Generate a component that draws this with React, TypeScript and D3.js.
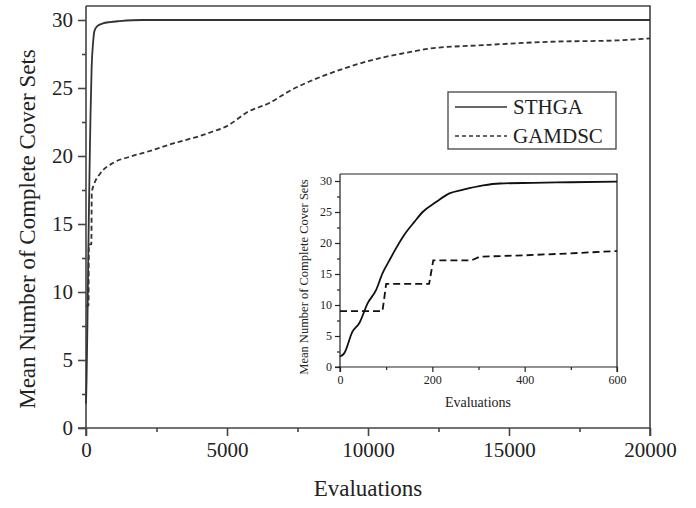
import React, { useEffect, useRef } from "react";
import * as d3 from "d3";

const sthgaMain: [number, number][] = [
  [0, 1.8], [20, 3.5], [50, 7.5], [80, 12.5], [100, 15.5], [130, 19.5], [160, 23], [200, 26.5],
  [250, 28.3], [300, 29.2], [400, 29.55], [600, 29.75], [850, 29.85], [1200, 29.92], [2000, 30],
  [5000, 30], [10000, 30], [20000, 30],
];
const gamdscMain: [number, number][] = [
  [0, 9], [90, 9], [100, 13.5], [190, 13.5], [205, 17.3], [300, 18.0], [500, 18.7], [970, 19.5],
  [1560, 19.95], [2150, 20.3], [3216, 21.0], [4000, 21.45], [4500, 21.8], [5000, 22.2], [5700, 23.2],
  [6500, 23.9], [7234, 24.8], [8300, 25.8], [9245, 26.5], [10425, 27.2], [11130, 27.5], [12200, 27.9],
  [14080, 28.15], [16450, 28.4], [18830, 28.5], [20000, 28.65],
];
const sthgaInset: [number, number][] = [
  [0, 1.7], [9, 2.2], [27, 5.7], [42, 7.1], [60, 10.3], [78, 12.4], [92, 15.1], [107, 17.2],
  [121, 19.1], [139, 21.3], [161, 23.4], [179, 25], [208, 26.6], [237, 28], [267, 28.6], [310, 29.3],
  [346, 29.6], [418, 29.7], [500, 29.8], [600, 29.9],
];
const gamdscInset: [number, number][] = [
  [0, 9], [92, 9], [100, 13.4], [193, 13.4], [202, 17.2], [285, 17.2], [303, 17.8], [396, 18.0],
  [490, 18.3], [600, 18.7],
];
const mainXTicks = [0, 5000, 10000, 15000, 20000];
const mainYTicks = [0, 5, 10, 15, 20, 25, 30];
const insetXTicks = [0, 200, 400, 600];
const insetYTicks = [0, 5, 10, 15, 20, 25, 30];
const legendLabels = ["STHGA", "GAMDSC"];
const xLabel = "Evaluations";
const yLabel = "Mean Number of Complete Cover Sets";

export default function App() {
  const ref = useRef<SVGSVGElement>(null);
  useEffect(() => {
    const svg = d3.select(ref.current);
    svg.selectAll("*").remove();
    const font = "'Liberation Serif', 'Times New Roman', serif";
    const frame = "#444";

    // main chart
    const x = d3.scaleLinear().domain([0, 20000]).range([86, 650]);
    const y = d3.scaleLinear().domain([0, 30]).range([428, 20]);
    const g = svg.append("g");

    const yAx = g.append("g").attr("transform", `translate(${x(0)},0)`)
      .call(d3.axisLeft(y).tickValues(mainYTicks).tickSize(8).tickPadding(5).tickFormat(d3.format("d")));
    g.append("g").attr("transform", `translate(${x(0)},0)`)
      .call(d3.axisLeft(y).tickValues(d3.range(2.5, 30, 5)).tickSize(4).tickFormat(() => ""))
      .call((s) => s.select(".domain").remove());
    const xAx = g.append("g").attr("transform", `translate(0,${y(0)})`)
      .call(d3.axisBottom(x).tickValues(mainXTicks).tickSize(8).tickPadding(6).tickFormat(d3.format("d")));
    g.append("g").attr("transform", `translate(0,${y(0)})`)
      .call(d3.axisBottom(x).tickValues(d3.range(2500, 20000, 5000)).tickSize(4).tickFormat(() => ""))
      .call((s) => s.select(".domain").remove());
    [yAx, xAx].forEach((a) => {
      a.selectAll("text").attr("font-family", font).attr("font-size", 21).attr("fill", "#222");
    });
    g.selectAll(".domain, .tick line").attr("stroke", frame).attr("stroke-width", 1.6);
    yAx.select(".domain").attr("d", `M-8,${y(0)}H0V6`);
    xAx.select(".domain").attr("d", `M${x(0)},8V0H${x(20000)}V8`);
    // top & right frame
    g.append("path").attr("d", `M${x(0)},6H${x(20000)}V${y(0)}`).attr("fill", "none")
      .attr("stroke", frame).attr("stroke-width", 1.6);

    const line = d3.line<[number, number]>().x((d) => x(d[0])).y((d) => y(d[1])).curve(d3.curveMonotoneX);
    g.append("path").datum(gamdscMain).attr("d", line).attr("fill", "none").attr("stroke", "#333")
      .attr("stroke-width", 1.8).attr("stroke-dasharray", "5,3");
    g.append("path").datum(sthgaMain).attr("d", line).attr("fill", "none").attr("stroke", "#333")
      .attr("stroke-width", 1.8);

    g.append("text").attr("x", 368).attr("y", 496).attr("text-anchor", "middle")
      .attr("font-family", font).attr("font-size", 23).attr("fill", "#222").text(xLabel);
    g.append("text").attr("transform", `translate(35,${y(15) + 5}) rotate(-90)`).attr("text-anchor", "middle")
      .attr("font-family", font).attr("font-size", 23).attr("fill", "#222").text(yLabel);

    // legend
    const lg = g.append("g");
    lg.append("rect").attr("x", 448).attr("y", 92).attr("width", 168).attr("height", 57)
      .attr("fill", "white").attr("stroke", frame).attr("stroke-width", 1.3);
    legendLabels.forEach((lab, i) => {
      const ly = 107 + i * 29;
      lg.append("line").attr("x1", 455).attr("x2", 507).attr("y1", ly).attr("y2", ly)
        .attr("stroke", "#333").attr("stroke-width", 1.5).attr("stroke-dasharray", i === 1 ? "4,3" : null);
      lg.append("text").attr("x", 513).attr("y", ly + 7).attr("font-family", font).attr("font-size", 21)
        .attr("fill", "#222").text(lab);
    });

    // inset
    const ix = d3.scaleLinear().domain([0, 600]).range([340, 617]);
    const iy = d3.scaleLinear().domain([0, 30]).range([367, 181]);
    const ig = svg.append("g");
    ig.append("rect").attr("x", 340).attr("y", 174).attr("width", 277).attr("height", 193).attr("fill", "white");
    const iyAx = ig.append("g").attr("transform", `translate(${ix(0)},0)`)
      .call(d3.axisLeft(iy).tickValues(insetYTicks).tickSize(5).tickPadding(3).tickFormat(d3.format("d")));
    ig.append("g").attr("transform", `translate(${ix(0)},0)`)
      .call(d3.axisLeft(iy).tickValues(d3.range(2.5, 30, 5)).tickSize(3).tickFormat(() => ""))
      .call((s) => s.select(".domain").remove());
    const ixAx = ig.append("g").attr("transform", `translate(0,${iy(0)})`)
      .call(d3.axisBottom(ix).tickValues(insetXTicks).tickSize(5).tickPadding(3).tickFormat(d3.format("d")));
    ig.append("g").attr("transform", `translate(0,${iy(0)})`)
      .call(d3.axisBottom(ix).tickValues([100, 300, 500]).tickSize(3).tickFormat(() => ""))
      .call((s) => s.select(".domain").remove());
    [iyAx, ixAx].forEach((a) => {
      a.selectAll("text").attr("font-family", font).attr("font-size", 12).attr("fill", "#222");
    });
    ig.selectAll(".domain, .tick line").attr("stroke", "#222").attr("stroke-width", 1.2);
    iyAx.select(".domain").attr("d", `M-5,${iy(0)}H0V174`);
    ixAx.select(".domain").attr("d", `M${ix(0)},5V0H${ix(600)}V5`);
    ig.append("path").attr("d", `M${ix(0)},174H${ix(600)}V${iy(0)}`).attr("fill", "none")
      .attr("stroke", "#222").attr("stroke-width", 1.2);

    const iline = d3.line<[number, number]>().x((d) => ix(d[0])).y((d) => iy(d[1]));
    const ilineSmooth = d3.line<[number, number]>().x((d) => ix(d[0])).y((d) => iy(d[1])).curve(d3.curveMonotoneX);
    ig.append("path").datum(gamdscInset).attr("d", iline).attr("fill", "none").attr("stroke", "#111")
      .attr("stroke-width", 1.8).attr("stroke-dasharray", "7,4");
    ig.append("path").datum(sthgaInset).attr("d", ilineSmooth).attr("fill", "none").attr("stroke", "#111")
      .attr("stroke-width", 1.8);

    ig.append("text").attr("x", 478).attr("y", 407).attr("text-anchor", "middle")
      .attr("font-family", font).attr("font-size", 14).attr("fill", "#222").text(xLabel);
    ig.append("text").attr("transform", `translate(308,${iy(15) + 3}) rotate(-90)`).attr("text-anchor", "middle")
      .attr("font-family", font).attr("font-size", 12.5).attr("fill", "#222").text(yLabel);
  }, []);
  return (
    <svg ref={ref} width={696} height={508} style={{ position: "absolute", left: 0, top: 0, background: "white" }} />
  );
}
